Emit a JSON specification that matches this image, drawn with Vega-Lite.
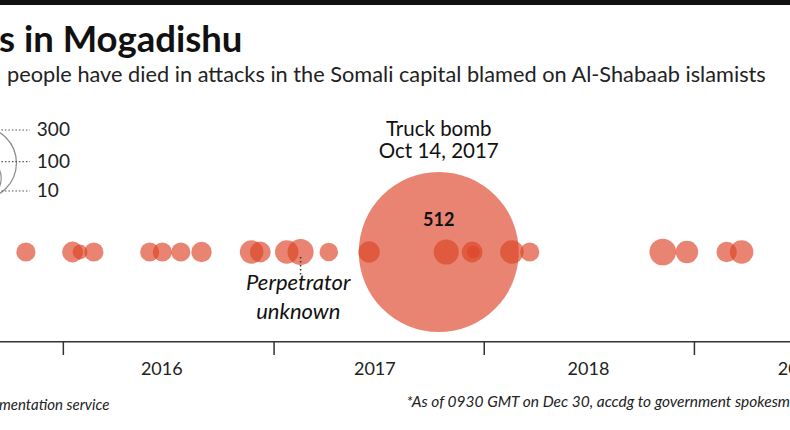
{
  "$schema": "https://vega.github.io/schema/vega-lite/v6.json",
  "width": 790,
  "height": 430,
  "autosize": {"type": "none"},
  "padding": 0,
  "background": "#ffffff",
  "config": {"view": {"stroke": null}, "text": {"font": "Lato"}},
  "datasets": {
    "attacks": [
      {"date": "2017-10-14", "deaths": 512},
      {"date": "2015-10-28", "deaths": 22},
      {"date": "2016-01-17", "deaths": 25},
      {"date": "2016-01-30", "deaths": 15},
      {"date": "2016-02-23", "deaths": 22},
      {"date": "2016-05-30", "deaths": 22},
      {"date": "2016-06-21", "deaths": 22},
      {"date": "2016-07-23", "deaths": 22},
      {"date": "2016-08-28", "deaths": 24},
      {"date": "2016-11-23", "deaths": 30},
      {"date": "2016-12-08", "deaths": 25},
      {"date": "2017-01-23", "deaths": 30},
      {"date": "2017-02-16", "deaths": 35},
      {"date": "2017-04-06", "deaths": 21},
      {"date": "2017-06-15", "deaths": 26},
      {"date": "2017-10-27", "deaths": 33},
      {"date": "2017-12-11", "deaths": 25},
      {"date": "2017-12-13", "deaths": 12},
      {"date": "2018-02-18", "deaths": 30},
      {"date": "2018-03-21", "deaths": 22},
      {"date": "2018-11-07", "deaths": 36},
      {"date": "2018-12-19", "deaths": 28},
      {"date": "2019-02-26", "deaths": 24},
      {"date": "2019-03-24", "deaths": 30}
    ],
    "legend": [{"v": 300}, {"v": 100}, {"v": 10}],
    "years": [
      {"date": "2016-06-20", "label": "2016"},
      {"date": "2017-06-25", "label": "2017"},
      {"date": "2018-07-01", "label": "2018"},
      {"date": "2019-07-01", "label": "2019"}
    ],
    "ticks": [
      {"date": "2016-01-01"},
      {"date": "2017-01-01"},
      {"date": "2018-01-01"},
      {"date": "2019-01-01"}
    ],
    "one": [{}]
  },
  "resolve": {"scale": {"y": "independent", "size": "independent"}},
  "layer": [
    {
      "layer": [
        {
          "data": {"name": "one"},
          "mark": {"type": "rule", "strokeWidth": 10, "color": "#111111"},
          "encoding": {
            "x": {"datum": {"year": 2015, "month": 9, "date": 13}, "type": "temporal", "scale": {"domain": [{"year": 2015, "month": 9, "date": 13}, {"year": 2019, "month": 6, "date": 16}], "nice": false}, "axis": null},
            "x2": {"datum": {"year": 2019, "month": 6, "date": 16}},
            "y": {"datum": 0, "type": "quantitative", "scale": {"domain": [430, 0], "nice": false, "zero": false}, "axis": null}
          }
        },
        {
          "data": {"name": "one"},
          "mark": {"type": "text", "text": "s in Mogadishu", "fontSize": 36.5, "fontWeight": "bold", "align": "left", "baseline": "alphabetic", "color": "#111111", "dx": -1},
          "encoding": {
            "x": {"datum": {"year": 2015, "month": 9, "date": 13}, "type": "temporal", "scale": {"domain": [{"year": 2015, "month": 9, "date": 13}, {"year": 2019, "month": 6, "date": 16}], "nice": false}, "axis": null},
            "y": {"datum": 52, "type": "quantitative", "scale": {"domain": [430, 0], "nice": false, "zero": false}, "axis": null}
          }
        },
        {
          "data": {"name": "one"},
          "mark": {"type": "text", "text": "people have died in attacks in the Somali capital blamed on Al-Shabaab islamists", "fontSize": 21.75, "align": "left", "baseline": "alphabetic", "color": "#222222", "dx": 7},
          "encoding": {
            "x": {"datum": {"year": 2015, "month": 9, "date": 13}, "type": "temporal", "scale": {"domain": [{"year": 2015, "month": 9, "date": 13}, {"year": 2019, "month": 6, "date": 16}], "nice": false}, "axis": null},
            "y": {"datum": 82, "type": "quantitative", "scale": {"domain": [430, 0], "nice": false, "zero": false}, "axis": null}
          }
        },
        {
          "data": {"name": "one"},
          "mark": {"type": "rule", "strokeWidth": 1.5, "color": "#333333"},
          "encoding": {
            "x": {"datum": {"year": 2015, "month": 9, "date": 13}, "type": "temporal", "scale": {"domain": [{"year": 2015, "month": 9, "date": 13}, {"year": 2019, "month": 6, "date": 16}], "nice": false}, "axis": null},
            "x2": {"datum": {"year": 2019, "month": 6, "date": 16}},
            "y": {"datum": 341.7, "type": "quantitative", "scale": {"domain": [430, 0], "nice": false, "zero": false}, "axis": null}
          }
        },
        {
          "data": {"name": "ticks"},
          "mark": {"type": "rule", "strokeWidth": 1.5, "color": "#333333"},
          "encoding": {
            "x": {"field": "date", "type": "temporal", "scale": {"domain": [{"year": 2015, "month": 9, "date": 13}, {"year": 2019, "month": 6, "date": 16}], "nice": false}, "axis": null},
            "y": {"datum": 342, "type": "quantitative", "scale": {"domain": [430, 0], "nice": false, "zero": false}, "axis": null},
            "y2": {"datum": 355}
          }
        },
        {
          "data": {"name": "years"},
          "mark": {"type": "text", "fontSize": 18, "align": "center", "baseline": "alphabetic", "color": "#222222"},
          "encoding": {
            "x": {"field": "date", "type": "temporal", "scale": {"domain": [{"year": 2015, "month": 9, "date": 13}, {"year": 2019, "month": 6, "date": 16}], "nice": false}, "axis": null},
            "y": {"datum": 375, "type": "quantitative", "scale": {"domain": [430, 0], "nice": false, "zero": false}, "axis": null},
            "text": {"field": "label"}
          }
        },
        {
          "data": {"name": "attacks"},
          "mark": {"type": "circle", "color": "#dc4528", "opacity": 0.66},
          "encoding": {
            "x": {"field": "date", "type": "temporal", "scale": {"domain": [{"year": 2015, "month": 9, "date": 13}, {"year": 2019, "month": 6, "date": 16}], "nice": false}, "axis": null},
            "y": {"datum": 252, "type": "quantitative", "scale": {"domain": [430, 0], "nice": false, "zero": false}, "axis": null},
            "size": {"field": "deaths", "type": "quantitative", "scale": {"type": "pow", "exponent": 1.35, "domain": [0, 512], "range": [0, 25600]}, "legend": null}
          }
        },
        {
          "data": {"values": [{"date": "2017-10-14", "label": "512"}]},
          "mark": {"type": "text", "fontSize": 18, "fontWeight": "bold", "align": "center", "baseline": "alphabetic", "color": "#111111"},
          "encoding": {
            "x": {"field": "date", "type": "temporal", "scale": {"domain": [{"year": 2015, "month": 9, "date": 13}, {"year": 2019, "month": 6, "date": 16}], "nice": false}, "axis": null},
            "y": {"datum": 226, "type": "quantitative", "scale": {"domain": [430, 0], "nice": false, "zero": false}, "axis": null},
            "text": {"field": "label"}
          }
        },
        {
          "data": {"values": [{"date": "2017-10-14", "label": ["Truck bomb", "Oct 14, 2017"]}]},
          "mark": {"type": "text", "fontSize": 20.5, "align": "center", "baseline": "alphabetic", "lineHeight": 22, "color": "#111111"},
          "encoding": {
            "x": {"field": "date", "type": "temporal", "scale": {"domain": [{"year": 2015, "month": 9, "date": 13}, {"year": 2019, "month": 6, "date": 16}], "nice": false}, "axis": null},
            "y": {"datum": 136, "type": "quantitative", "scale": {"domain": [430, 0], "nice": false, "zero": false}, "axis": null},
            "text": {"field": "label"}
          }
        },
        {
          "data": {"values": [{"date": "2017-02-16"}]},
          "mark": {"type": "rule", "strokeWidth": 1.5, "strokeDash": [1.5, 2.5], "color": "#333333"},
          "encoding": {
            "x": {"field": "date", "type": "temporal", "scale": {"domain": [{"year": 2015, "month": 9, "date": 13}, {"year": 2019, "month": 6, "date": 16}], "nice": false}, "axis": null},
            "y": {"datum": 257, "type": "quantitative", "scale": {"domain": [430, 0], "nice": false, "zero": false}, "axis": null},
            "y2": {"datum": 276}
          }
        },
        {
          "data": {"values": [{"date": "2017-02-12", "label": ["Perpetrator", "unknown"]}]},
          "mark": {"type": "text", "fontSize": 22, "fontStyle": "italic", "align": "center", "baseline": "alphabetic", "lineHeight": 29, "color": "#111111"},
          "encoding": {
            "x": {"field": "date", "type": "temporal", "scale": {"domain": [{"year": 2015, "month": 9, "date": 13}, {"year": 2019, "month": 6, "date": 16}], "nice": false}, "axis": null},
            "y": {"datum": 290, "type": "quantitative", "scale": {"domain": [430, 0], "nice": false, "zero": false}, "axis": null},
            "text": {"field": "label"}
          }
        },
        {
          "data": {"values": [{"label": "mentation service"}]},
          "mark": {"type": "text", "fontSize": 15, "fontStyle": "italic", "align": "left", "baseline": "alphabetic", "color": "#222222", "dx": -1},
          "encoding": {
            "x": {"datum": {"year": 2015, "month": 9, "date": 13}, "type": "temporal", "scale": {"domain": [{"year": 2015, "month": 9, "date": 13}, {"year": 2019, "month": 6, "date": 16}], "nice": false}, "axis": null},
            "y": {"datum": 410, "type": "quantitative", "scale": {"domain": [430, 0], "nice": false, "zero": false}, "axis": null},
            "text": {"field": "label"}
          }
        },
        {
          "data": {"values": [{"date": "2017-08-19", "label": "*As of 0930 GMT on Dec 30, accdg to government spokesman"}]},
          "mark": {"type": "text", "fontSize": 15.5, "fontStyle": "italic", "align": "left", "baseline": "alphabetic", "color": "#222222"},
          "encoding": {
            "x": {"field": "date", "type": "temporal", "scale": {"domain": [{"year": 2015, "month": 9, "date": 13}, {"year": 2019, "month": 6, "date": 16}], "nice": false}, "axis": null},
            "y": {"datum": 407, "type": "quantitative", "scale": {"domain": [430, 0], "nice": false, "zero": false}, "axis": null},
            "text": {"field": "label"}
          }
        }
      ]
    },
    {
      "data": {"name": "legend"},
      "mark": {"type": "point", "shape": "circle", "filled": false, "stroke": "#8a8a8a", "strokeWidth": 1.2, "opacity": 1},
      "encoding": {
        "x": {"datum": {"year": 2015, "month": 8, "date": 10}, "type": "temporal", "scale": {"domain": [{"year": 2015, "month": 9, "date": 13}, {"year": 2019, "month": 6, "date": 16}], "nice": false}, "axis": null},
        "y": {"field": "v", "type": "quantitative", "scale": {"type": "sqrt", "domain": [0, 300], "range": [199, 163], "nice": false, "zero": false}, "axis": null},
        "size": {"field": "v", "type": "quantitative", "scale": {"type": "linear", "domain": [0, 300], "range": [0, 5184]}, "legend": null}
      }
    },
    {
      "layer": [
        {
          "data": {"name": "legend"},
          "mark": {"type": "rule", "strokeDash": [1.5, 2], "color": "#555555", "strokeWidth": 1.2},
          "encoding": {
            "x": {"datum": {"year": 2015, "month": 8, "date": 10}, "type": "temporal", "scale": {"domain": [{"year": 2015, "month": 9, "date": 13}, {"year": 2019, "month": 6, "date": 16}], "nice": false}, "axis": null},
            "x2": {"datum": {"year": 2015, "month": 11, "date": 4}},
            "y": {"field": "v", "type": "quantitative", "scale": {"type": "sqrt", "domain": [0, 300], "range": [204.6, 130], "nice": false, "zero": false}, "axis": null}
          }
        },
        {
          "data": {"name": "legend"},
          "mark": {"type": "text", "align": "left", "baseline": "middle", "fontSize": 19, "color": "#222222"},
          "encoding": {
            "x": {"datum": {"year": 2015, "month": 11, "date": 16}, "type": "temporal", "scale": {"domain": [{"year": 2015, "month": 9, "date": 13}, {"year": 2019, "month": 6, "date": 16}], "nice": false}, "axis": null},
            "y": {"field": "v", "type": "quantitative", "scale": {"type": "sqrt", "domain": [0, 300], "range": [204.6, 130], "nice": false, "zero": false}, "axis": null},
            "text": {"field": "v", "type": "quantitative"}
          }
        }
      ]
    }
  ]
}
